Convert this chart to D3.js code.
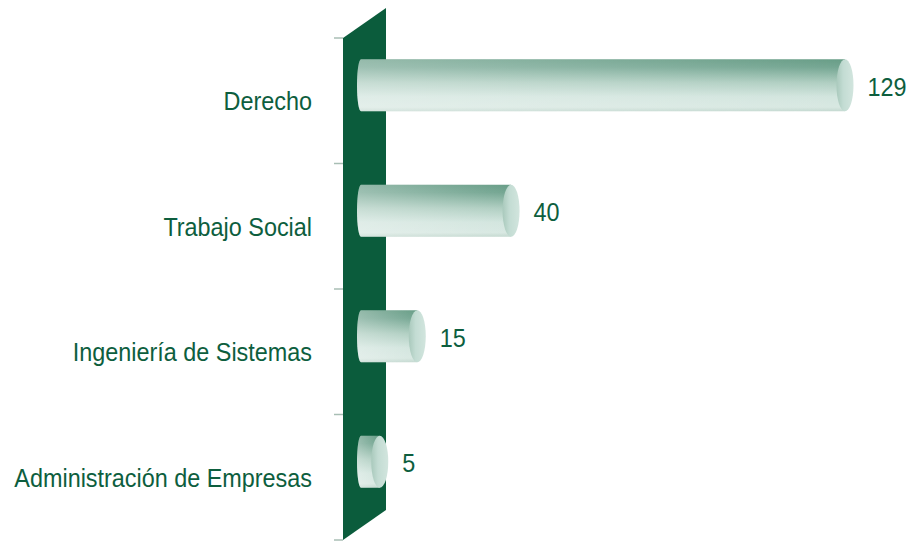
<!DOCTYPE html>
<html><head><meta charset="utf-8">
<script src="https://cdn.jsdelivr.net/npm/d3@7/dist/d3.min.js"></script>
<style>
html,body{margin:0;padding:0;background:#fff;}
svg{display:block;}
</style></head>
<body>
<svg id="chart" width="909" height="542"></svg>
<script>
const categories = ["Derecho","Trabajo Social","Ingeniería de Sistemas","Administración de Empresas"];
const values = [129, 40, 15, 5];

const svg = d3.select("#chart");
const defs = svg.append("defs");

const textColor = "#0d5e3e";
const wallColor = "#0b5c3c";
const fontFam = "'Liberation Sans',Arial,sans-serif";
const fontSize = 26, squeeze = 0.9;

// scales
const y = d3.scaleBand().domain(categories).range([38, 540]).paddingInner(0).paddingOuter(0);
const x = d3.scaleLinear().domain([0, 129]).range([361, 845]);

const depthX = 43, depthY = 30; // wall slant
const wallLeft = 343;
const barOffsetY = -15.5;
const barH = 52;
const capRx = 8.5;

// gradients
const gBody = defs.append("linearGradient").attr("id","gBody").attr("x1",0).attr("y1",0).attr("x2",0).attr("y2",1);
[[0,"#689d87"],[0.15,"#74a692"],[0.45,"#afcec1"],[0.72,"#d2e5de"],[0.92,"#d8e8e2"],[1,"#c4d9d0"]]
  .forEach(([o,c])=>gBody.append("stop").attr("offset",o).attr("stop-color",c));
const gFade = defs.append("linearGradient").attr("id","gFade").attr("x1",0).attr("y1",0).attr("x2",1).attr("y2",0);
gFade.append("stop").attr("offset",0).attr("stop-color","#ffffff").attr("stop-opacity",0.3);
gFade.append("stop").attr("offset",1).attr("stop-color","#ffffff").attr("stop-opacity",0);
const gCap = defs.append("linearGradient").attr("id","gCap").attr("x1",0).attr("y1",0).attr("x2",1).attr("y2",0);
[[0,"#a9c9bc"],[0.4,"#c3dcd3"],[1,"#d2e5de"]].forEach(([o,c])=>gCap.append("stop").attr("offset",o).attr("stop-color",c));
const blur = defs.append("filter").attr("id","soft").attr("x","-10%").attr("y","-10%").attr("width","120%").attr("height","120%");
blur.append("feGaussianBlur").attr("stdDeviation",0.6);

// tick lines at band boundaries
const bounds = categories.map(c=>y(c)).concat([y.range()[1]]);
svg.append("g").selectAll("line").data(bounds).join("line")
  .attr("x1", wallLeft - 9).attr("x2", wallLeft)
  .attr("y1", d=>d).attr("y2", d=>d)
  .attr("stroke","#a8beb4").attr("stroke-width",1.5);

// wall (parallelogram)
const y0 = y.range()[0], y1 = y.range()[1];
svg.append("path")
  .attr("d", `M${wallLeft},${y0} L${wallLeft+depthX},${y0-depthY} L${wallLeft+depthX},${y1-depthY} L${wallLeft},${y1} Z`)
  .attr("fill", wallColor);

function addText(sel, tx, ty, anchor, str){
  sel.append("text")
    .attr("transform", `translate(${tx},${ty}) scale(${squeeze},1)`)
    .attr("dy","0.36em").attr("text-anchor", anchor).attr("fill", textColor)
    .style("font-family", fontFam).style("font-size", fontSize+"px")
    .text(str);
}

// bars
const bars = svg.append("g").attr("filter","url(#soft)");
const vlabels = svg.append("g");
categories.forEach((c,i)=>{
  const v = values[i];
  const cy = y(c) + y.bandwidth()/2 + barOffsetY;
  const top = cy - barH/2, bot = cy + barH/2;
  const xs = x(0), xe = x(v);
  const leftRx = 4;
  const body = `M${xs},${top} L${xe},${top} L${xe},${bot} L${xs},${bot} A${leftRx},${barH/2} 0 0 1 ${xs},${top} Z`;
  bars.append("path").attr("d", body).attr("fill","url(#gBody)");
  bars.append("path").attr("d", body).attr("fill","url(#gFade)");
  bars.append("ellipse").attr("cx", xe).attr("cy", cy).attr("rx", capRx).attr("ry", barH/2)
    .attr("fill","url(#gCap)");
  addText(vlabels, xe + capRx + 14, cy + 1, "start", v);
});

// category labels
const clabels = svg.append("g");
categories.forEach(c=>addText(clabels, 312, y(c)+y.bandwidth()/2, "end", c));
</script>
</body></html>
